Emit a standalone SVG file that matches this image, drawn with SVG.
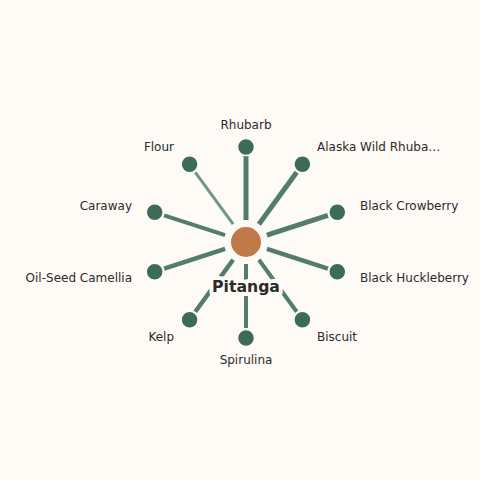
<svg xmlns="http://www.w3.org/2000/svg" width="480" height="480" viewBox="0 0 480 480">
<style>
.bg{fill:#fefaf6}
.e{stroke:#527d6c;stroke-linecap:butt}
.n{fill:#3d6b5a;stroke:#fefaf6;stroke-width:1.5}
.c{fill:#c07a4a;stroke:#fefaf6;stroke-width:2}
.l{font-family:"DejaVu Sans",sans-serif;font-size:12px;fill:#2b2b2b}
.t{font-family:"DejaVu Sans",sans-serif;font-size:15.7px;font-weight:bold;fill:#2b2b2b;stroke:#fefaf6;stroke-width:8;paint-order:stroke;stroke-linejoin:round}
</style>
<rect class="bg" width="480" height="480"/>
<g id="connectors">
<line class="e" x1="246" y1="220" x2="246" y2="156" stroke-width="5"/>
<line class="e" x1="258.9" y1="224.2" x2="296.7" y2="172.3" stroke-width="5"/>
<line class="e" x1="266.9" y1="235.2" x2="327.9" y2="215.4" stroke-width="5"/>
<line class="e" x1="266.9" y1="248.8" x2="327.9" y2="268.6" stroke-width="4.5"/>
<line class="e" x1="258.9" y1="259.8" x2="296.7" y2="311.7" stroke-width="4"/>
<line class="e" x1="246" y1="264" x2="246" y2="328" stroke-width="4"/>
<line class="e" x1="233.1" y1="259.8" x2="195.3" y2="311.7" stroke-width="4.5"/>
<line class="e" x1="225.1" y1="248.8" x2="164.1" y2="268.6" stroke-width="4.5"/>
<line class="e" x1="225.1" y1="235.2" x2="164.1" y2="215.4" stroke-width="4"/>
<line class="e" x1="233.1" y1="224.2" x2="195.3" y2="172.3" stroke-width="3" style="stroke:#6f9786"/>
</g>
<g id="center"><circle class="c" cx="246" cy="242" r="16"/><text class="t" x="246" y="291.5" text-anchor="middle">Pitanga</text></g>
<g id="n-rhubarb"><circle class="n" cx="246" cy="147" r="8.5"/><text class="l" x="246" y="129" text-anchor="middle">Rhubarb</text></g>
<g id="n-alaska"><circle class="n" cx="302.4" cy="164.3" r="8.5"/><text class="l" x="317" y="151">Alaska Wild Rhuba…</text></g>
<g id="n-crowberry"><circle class="n" cx="337.3" cy="212.3" r="8.5"/><text class="l" x="360" y="210">Black Crowberry</text></g>
<g id="n-huckleberry"><circle class="n" cx="337.3" cy="271.7" r="8.5"/><text class="l" x="360" y="282">Black Huckleberry</text></g>
<g id="n-biscuit"><circle class="n" cx="302.4" cy="319.7" r="8.5"/><text class="l" x="317" y="341">Biscuit</text></g>
<g id="n-spirulina"><circle class="n" cx="246" cy="338" r="8.5"/><text class="l" x="246" y="364" text-anchor="middle">Spirulina</text></g>
<g id="n-kelp"><circle class="n" cx="189.6" cy="319.7" r="8.5"/><text class="l" x="174" y="341" text-anchor="end">Kelp</text></g>
<g id="n-oilseed"><circle class="n" cx="154.7" cy="271.7" r="8.5"/><text class="l" x="132" y="282" text-anchor="end">Oil-Seed Camellia</text></g>
<g id="n-caraway"><circle class="n" cx="154.7" cy="212.3" r="8.5"/><text class="l" x="132" y="210" text-anchor="end">Caraway</text></g>
<g id="n-flour"><circle class="n" cx="189.6" cy="164.3" r="8.5"/><text class="l" x="174" y="151" text-anchor="end">Flour</text></g>
</svg>
